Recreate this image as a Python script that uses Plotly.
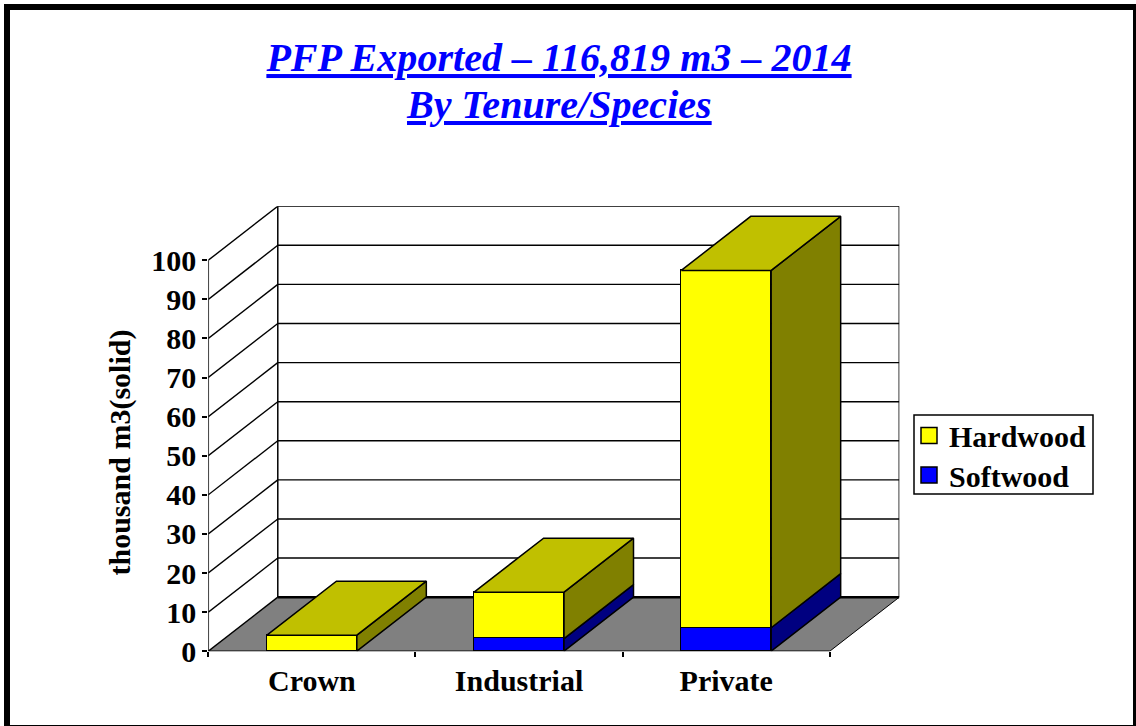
import plotly.graph_objects as go

CATEGORIES = ["Crown", "Industrial", "Private"]
HARDWOOD = [4.1, 11.9, 91.4]
SOFTWOOD = [0.0, 3.2, 6.0]
Y_TICKS = [0, 10, 20, 30, 40, 50, 60, 70, 80, 90, 100]
TITLE_1 = "PFP Exported – 116,819 m3 – 2014"
TITLE_2 = "By Tenure/Species"
Y_TITLE = "thousand m3(solid)"

W, H = 1136, 726
FONT = "Liberation Serif"
SIZE = 30
BAR_W = 0.434
DX = 0.3354   # oblique depth, x data units
DY = 13.82    # oblique depth, y data units
XMIN, XMAX = -0.5, 2.5
YMAX = 100
xs = list(range(len(CATEGORIES)))
LW = 1.5
text_font = dict(family=FONT, size=SIZE, color="#000000", weight="bold")


def poly(px, py, fill, line=LW):
    return go.Scatter(
        x=px + px[:1], y=py + py[:1], mode="lines", fill="toself", fillcolor=fill,
        line=dict(color="#000000", width=line), showlegend=False, hoverinfo="skip",
    )


fig = go.Figure()

# Front faces (real stacked bars)
fig.add_bar(x=xs, y=SOFTWOOD, width=BAR_W, marker=dict(color="#0000FF", line=dict(color="#000", width=LW)),
            showlegend=False, name="Softwood")
fig.add_bar(x=xs, y=HARDWOOD, width=BAR_W, marker=dict(color="#FFFF00", line=dict(color="#000", width=LW)),
            showlegend=False, name="Hardwood")

# Oblique faces
for i in xs:
    r = i + BAR_W / 2
    l = i - BAR_W / 2
    s, h = SOFTWOOD[i], HARDWOOD[i]
    if s > 0:
        fig.add_trace(poly([r, r + DX, r + DX, r], [0, DY, s + DY, s], "#000080"))
    fig.add_trace(poly([r, r + DX, r + DX, r], [s, s + DY, s + h + DY, s + h], "#808000"))
    fig.add_trace(poly([l, r, r + DX, l + DX], [s + h, s + h, s + h + DY, s + h + DY], "#C0C000"))

# Legend entries
fig.add_trace(go.Scatter(x=[None], y=[None], mode="markers", name="Hardwood", legend="legend",
                         marker=dict(symbol="square", size=16, color="#FFFF00", line=dict(color="#000", width=1.5))))
fig.add_trace(go.Scatter(x=[None], y=[None], mode="markers", name="Softwood", legend="legend2",
                         marker=dict(symbol="square", size=16, color="#0000FF", line=dict(color="#000", width=1.5))))

# Walls, floor and gridlines
shapes = []
floor = f"M {XMIN} 0 L {XMAX} 0 L {XMAX + DX} {DY} L {XMIN + DX} {DY} Z"
shapes.append(dict(type="path", path=floor, xref="x", yref="y", layer="below",
                   fillcolor="#808080", line=dict(color="#000", width=0)))
for v in Y_TICKS:
    shapes.append(dict(type="line", xref="x", yref="y", x0=XMIN, x1=XMIN + DX, y0=v, y1=v + DY, layer="below",
                       line=dict(color="#000", width=1.4)))
    shapes.append(dict(type="line", xref="x", yref="y", x0=XMIN + DX, x1=XMAX + DX, y0=v + DY, y1=v + DY,
                       layer="below", line=dict(color="#000", width=2.5 if v == 0 else 1.4)))
shapes.append(dict(type="line", xref="x", yref="y", x0=XMIN, x1=XMIN, y0=0, y1=YMAX, layer="below",
                   line=dict(color="#000", width=1.5)))
shapes.append(dict(type="line", xref="x", yref="y", x0=XMIN + DX, x1=XMIN + DX, y0=DY, y1=YMAX + DY, layer="below",
                   line=dict(color="#000", width=1.5)))
shapes.append(dict(type="line", xref="x", yref="y", x0=XMAX + DX, x1=XMAX + DX, y0=DY, y1=YMAX + DY, layer="below",
                   line=dict(color="#000", width=1.5)))
shapes.append(dict(type="line", xref="x", yref="y", x0=XMIN, x1=XMAX, y0=0, y1=0, layer="below",
                   line=dict(color="#000", width=1.5)))
shapes.append(dict(type="line", xref="x", yref="y", x0=XMAX, x1=XMAX + DX, y0=0, y1=DY, layer="below",
                   line=dict(color="#000", width=1)))
# Page frame and legend box
shapes.append(dict(type="rect", xref="paper", yref="paper", x0=7 / W, x1=1136 / W, y0=1 - 7 / H, y1=1 - 728 / H,
                   line=dict(color="#000", width=6), fillcolor="rgba(0,0,0,0)"))
shapes.append(dict(type="rect", xref="paper", yref="paper", x0=914 / W, x1=1093 / W, y0=1 - 415 / H, y1=1 - 494 / H,
                   line=dict(color="#000", width=1.5), fillcolor="#FFFFFF"))

title_font = dict(family=FONT, size=40.1, color="#0000FF", weight="bold", style="italic", lineposition="under")

legend_base = dict(xanchor="left", yanchor="middle", bgcolor="rgba(0,0,0,0)", borderwidth=0, font=text_font)

fig.update_layout(
    width=W, height=H, margin=dict(l=0, r=0, t=0, b=0), autosize=False,
    paper_bgcolor="#FFFFFF", plot_bgcolor="rgba(0,0,0,0)",
    barmode="stack", bargap=0,
    font=text_font,
    title=dict(text=TITLE_1, x=559 / W, xanchor="center", xref="paper",
               y=1 - 57 / H, yanchor="middle", yref="paper", font=title_font),
    shapes=shapes,
    annotations=[
        dict(text=TITLE_2, x=559 / W, y=1 - 105 / H, xref="paper", yref="paper", xanchor="center", yanchor="middle",
             showarrow=False, font=title_font),
        dict(text=Y_TITLE, x=119.5 / W, y=1 - 453 / H, xref="paper", yref="paper", xanchor="center", yanchor="middle",
             textangle=-90, showarrow=False, font=text_font),
    ],
    xaxis=dict(domain=[208.3 / W, 899.3 / W], range=[XMIN, XMAX + DX], tickmode="array", tickvals=xs,
               ticktext=CATEGORIES, ticks="", showgrid=False, zeroline=False, showline=False, automargin=False,
               ticklabelstandoff=9,
               minor=dict(tickmode="array", tickvals=[-0.5, 0.5, 1.5, 2.5], ticks="outside", ticklen=5,
                          tickcolor="#000", tickwidth=1.5, showgrid=False),
               tickfont=text_font),
    yaxis=dict(domain=[1 - 651.2 / H, 1 - 206.2 / H], range=[0, YMAX + DY], tickmode="array", tickvals=Y_TICKS,
               ticks="outside", ticklen=5, tickcolor="#000", tickwidth=1.5, showgrid=False, zeroline=False,
               showline=False, automargin=False, tickfont=text_font),
    legend=dict(x=909 / W, y=1 - 435.5 / H, **legend_base),
    legend2=dict(x=909 / W, y=1 - 475 / H, **legend_base),
)

fig.write_html("out.html", config={"displayModeBar": False},
               post_script="document.body.style.margin='0';document.body.style.overflow='hidden';")
